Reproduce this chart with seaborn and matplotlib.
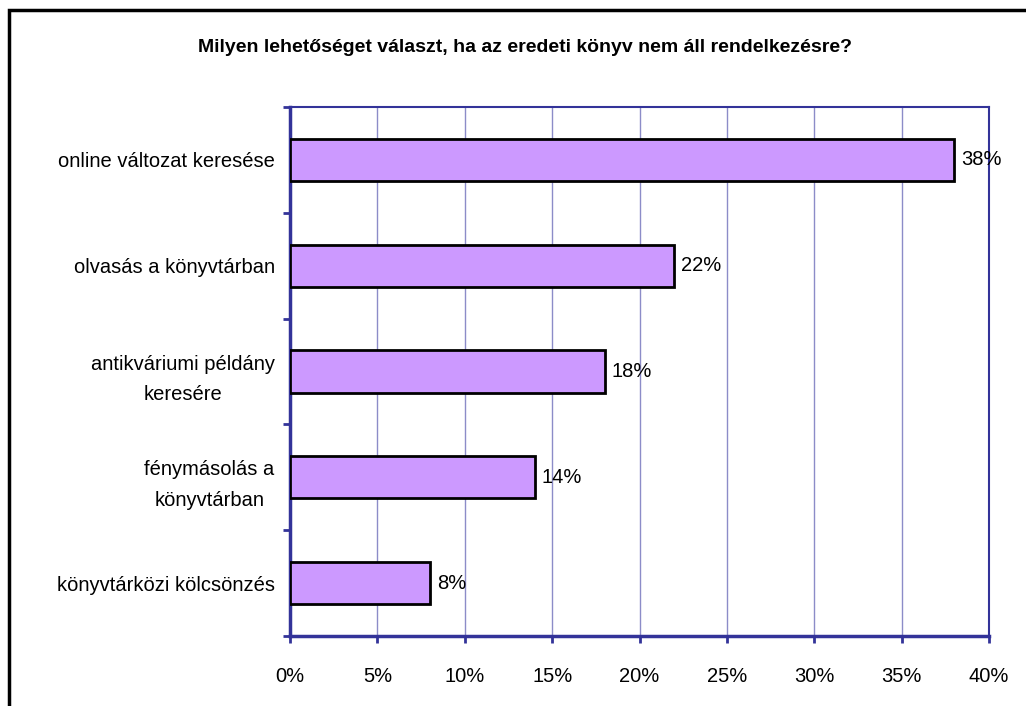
import matplotlib.pyplot as plt
import matplotlib.patches as patches
from matplotlib.ticker import FixedLocator, PercentFormatter
import pandas as pd
import seaborn as sns

# Adatok
kategoriak = ["online változat keresése", "olvasás a könyvtárban",
              "antikváriumi példány\nkeresére", "fénymásolás a\nkönyvtárban",
              "könyvtárközi kölcsönzés"]
ertekek = [38, 22, 18, 14, 8]
x_tickek = [0, 5, 10, 15, 20, 25, 30, 35, 40]
cim = "Milyen lehetőséget választ, ha az eredeti könyv nem áll rendelkezésre?"

df = pd.DataFrame({"kategoria": kategoriak, "ertek": ertekek})

sns.set_style("white")
plt.rcParams["font.family"] = ["Liberation Sans", "DejaVu Sans"]
plt.rcParams["text.color"] = "black"
plt.rcParams["xtick.labelcolor"] = "black"
plt.rcParams["ytick.labelcolor"] = "black"

navy = "#333399"
fig = plt.figure(figsize=(10.26, 7.06), dpi=100)
ax = fig.add_axes([290 / 1026, 1 - 636 / 706, (989 - 290) / 1026, (636 - 107) / 706])

sns.barplot(data=df, x="ertek", y="kategoria", orient="h", color="#CC99FF",
            saturation=1, width=0.4, edgecolor="black", linewidth=2, ax=ax, zorder=3)

ax.set_xlim(0, 40)
ax.set_ylim(4.5, -0.5)
ax.set_xticks(x_tickek)
ax.xaxis.set_major_formatter(PercentFormatter(decimals=0))
ax.grid(axis="x", color="#8C8CC8", linewidth=1, zorder=0)
ax.grid(axis="y", visible=False)

# kategória határok tickekkel, címkék a középen
ax.yaxis.set_major_locator(FixedLocator([-0.5 + i for i in range(6)]))
ax.yaxis.set_minor_locator(FixedLocator(range(len(kategoriak))))
ax.set_yticklabels([], minor=False)
ax.set_yticklabels(kategoriak, minor=True)
for lab in ax.get_yticklabels(minor=True):
    lab.set_multialignment("center")
    lab.set_linespacing(1.8)
ax.tick_params(axis="y", which="major", length=5, width=2, color=navy, direction="out", left=True)
ax.tick_params(axis="y", which="minor", length=0, pad=11, labelsize=14.5, labelcolor="black")
ax.tick_params(axis="x", which="major", length=5, width=2, color=navy, direction="out",
               bottom=True, pad=17, labelsize=14.5, labelcolor="black")

ax.set_xlabel("")
ax.set_ylabel("")

for side in ["left", "bottom"]:
    ax.spines[side].set_color(navy)
    ax.spines[side].set_linewidth(2.5)
for side in ["top", "right"]:
    ax.spines[side].set_color(navy)
    ax.spines[side].set_linewidth(1.5)

for i, v in enumerate(ertekek):
    ax.annotate(f"{v}%", xy=(v, i), xytext=(5, 0), textcoords="offset points",
                va="center", ha="left", fontsize=14.5, color="black", zorder=4)

fig.text(0.512, 1 - 47 / 706, cim, ha="center", va="center", fontsize=14,
         fontweight="bold", color="black")

# külső keret
keret = patches.Rectangle((9 / 1026, -0.05), 1.1, 1 - 10 / 706 + 0.05, transform=fig.transFigure,
                          fill=False, edgecolor="black", linewidth=2.5)
fig.patches.append(keret)

fig.savefig("out.png", dpi=100)
